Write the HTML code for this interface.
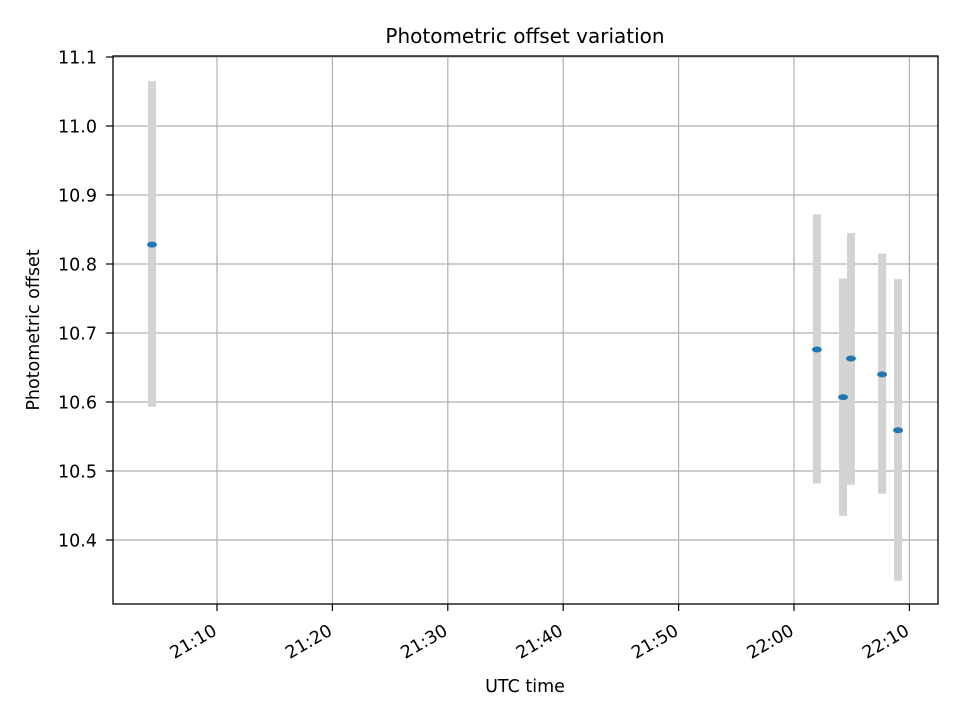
<!DOCTYPE html>
<html><head><meta charset="utf-8"><style>
body{margin:0;background:#fff;}
svg{font-family:"DejaVu Sans","Liberation Sans",sans-serif;}
</style></head><body>
<svg id="chart" width="960" height="720">
<rect width="960" height="720" fill="#fff"/>
<g id="grid"></g><g id="bars"></g><g id="pts"></g><g id="axes"></g>
<text x="525" y="43" font-size="20" text-anchor="middle">Photometric offset variation</text>
<text x="525" y="692" font-size="17.5" text-anchor="middle">UTC time</text>
<text transform="translate(39,330) rotate(-90)" font-size="17.5" text-anchor="middle">Photometric offset</text>
</svg>
<script>
const times=["21:04:22","22:01:59","22:04:15","22:04:56","22:07:38","22:09:01"];
const values=[10.828,10.676,10.607,10.663,10.640,10.559];
const errLow=[10.593,10.482,10.435,10.480,10.467,10.341];
const errHigh=[11.065,10.872,10.779,10.845,10.815,10.778];
const xTicks=["21:10","21:20","21:30","21:40","21:50","22:00","22:10"];
const yTicks=[10.4,10.5,10.6,10.7,10.8,10.9,11.0,11.1];
const L=113,R=938,T=56,B=604;
function mins(s){const p=s.split(":").map(Number);return p[0]*60+p[1]+(p[2]||0)/60;}
function X(s){return 217+(mins(s)-mins("21:10"))*11.54;}
function Y(v){return 540-(v-10.4)*690;}
const NS="http://www.w3.org/2000/svg";
function mk(parent,tag,attrs){const e=document.createElementNS(NS,tag);for(const k in attrs)e.setAttribute(k,attrs[k]);document.getElementById(parent).appendChild(e);return e;}
xTicks.forEach(t=>{const x=X(t);
 const g=mk("grid","line",{x1:x,x2:x,y1:T,y2:B,stroke:"#b0b0b0","stroke-width":1.2});
 
 
 mk("axes","line",{x1:x,x2:x,y1:B,y2:B+7,stroke:"#000","stroke-width":1.2});
 const ax=x+1, ay=B+30;
 const tx=mk("axes","text",{x:ax,y:ay,"font-size":17.5,"text-anchor":"end",transform:`rotate(-30 ${ax} ${ay})`});
 tx.textContent=t;
 
 
});
yTicks.forEach(v=>{const y=Y(v);
 const g=mk("grid","line",{x1:L,x2:R,y1:y,y2:y,stroke:"#b0b0b0","stroke-width":1.2});
 
 
 mk("axes","line",{x1:L-7,x2:L,y1:y,y2:y,stroke:"#000","stroke-width":1.2});
 const tx=mk("axes","text",{x:L-16,y:y+6.5,"font-size":17.5,"text-anchor":"end"});
 tx.textContent=v.toFixed(1);
 
 
});
const fr=mk("axes","rect",{x:L,y:T,width:R-L,height:B-T,fill:"none",stroke:"#000","stroke-width":1.3});


times.forEach((t,i)=>{const x=X(t);
 const b=mk("bars","rect",{x:x-4,y:Y(errHigh[i]),width:8,height:Y(errLow[i])-Y(errHigh[i]),fill:"#d3d3d3"});
 
 
 const p=mk("pts","ellipse",{cx:x,cy:Y(values[i]),rx:5,ry:3,fill:"#1f77b4"});
 
 
});
</script>
</body></html>
